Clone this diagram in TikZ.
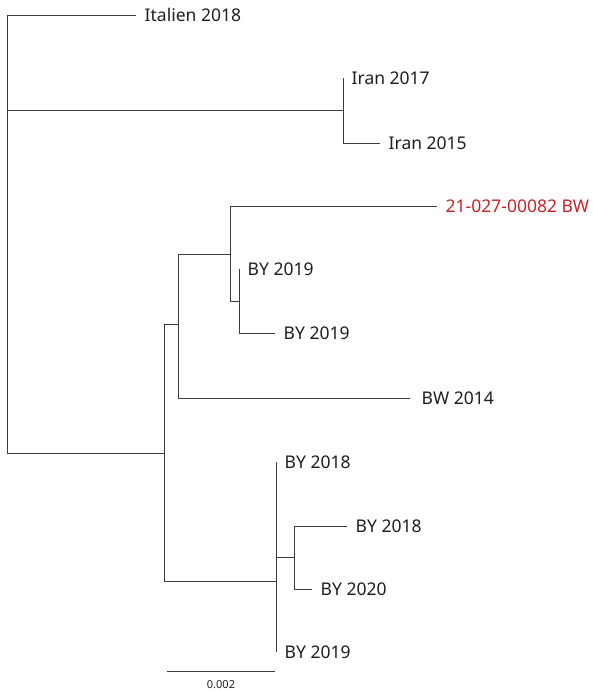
\documentclass[tikz,border=0pt]{standalone}
\usepackage{fontspec}
\setmainfont{Noto Sans}
\definecolor{tipred}{RGB}{200,35,40}
\definecolor{brc}{RGB}{60,60,60}
\definecolor{txc}{RGB}{30,30,30}
\begin{document}
\begin{tikzpicture}[x=1pt,y=-1pt,
  br/.style={draw=brc,line width=1pt},
  lab/.style={anchor=west,inner sep=0pt,font=\fontsize{17.5}{20}\selectfont,text height=12.5pt,text depth=0pt,text=txc,xshift=8.5pt},
  scl/.style={inner sep=0pt,font=\fontsize{11}{12}\selectfont,text=txc}]
\useasboundingbox (0,0) rectangle (593,691);
% internal nodes
\coordinate (R) at (7,110);
\coordinate (I) at (343,110);
\coordinate (A) at (164,453);
\coordinate (B) at (178,324);
\coordinate (C) at (230,254);
\coordinate (D) at (239,301);
\coordinate (E) at (276,581);
\coordinate (F) at (294,557);
% tips
\coordinate (tIt) at (136,15);
\coordinate (tIr17) at (343,78);
\coordinate (tIr15) at (380,143);
\coordinate (tRed) at (437,206);
\coordinate (tBY19a) at (239,269);
\coordinate (tBY19b) at (275,333);
\coordinate (tBW14) at (410,398);
\coordinate (tBY18a) at (276,462);
\coordinate (tBY18b) at (347,526);
\coordinate (tBY20) at (312,589);
\coordinate (tBY19c) at (276,652);
% branches
\draw[br] (R) |- (tIt);
\draw[br] (R) -- (I);
\draw[br] (R) |- (A);
\draw[br] (I) |- (tIr17);
\draw[br] (I) |- (tIr15);
\draw[br] (A) |- (B);
\draw[br] (A) |- (E);
\draw[br] (B) |- (C);
\draw[br] (B) |- (tBW14);
\draw[br] (C) |- (tRed);
\draw[br] (C) |- (D);
\draw[br] (D) |- (tBY19a);
\draw[br] (D) |- (tBY19b);
\draw[br] (E) |- (tBY18a);
\draw[br] (E) |- (F);
\draw[br] (E) |- (tBY19c);
\draw[br] (F) |- (tBY18b);
\draw[br] (F) |- (tBY20);
% labels
\node[lab] (LIt) at (tIt) {Italien 2018};
\node[lab] (LIr17) at (tIr17) {Iran 2017};
\node[lab] (LIr15) at (tIr15) {Iran 2015};
\node[lab,text=tipred] (LRed) at (tRed) {21-027-00082 BW};
\node[lab] (LBY19a) at (tBY19a) {BY 2019};
\node[lab] (LBY19b) at (tBY19b) {BY 2019};
\node[lab,xshift=3pt] (LBW14) at (tBW14) {BW 2014};
\node[lab] (LBY18a) at (tBY18a) {BY 2018};
\node[lab] (LBY18b) at (tBY18b) {BY 2018};
\node[lab] (LBY20) at (tBY20) {BY 2020};
\node[lab] (LBY19c) at (tBY19c) {BY 2019};
% scale bar
\coordinate (s1) at (167,671);
\coordinate (s2) at (275,671);
\draw[br] (s1) -- (s2);
\node[scl] (sl) at (221,685) {0.002};
\end{tikzpicture}
\end{document}
